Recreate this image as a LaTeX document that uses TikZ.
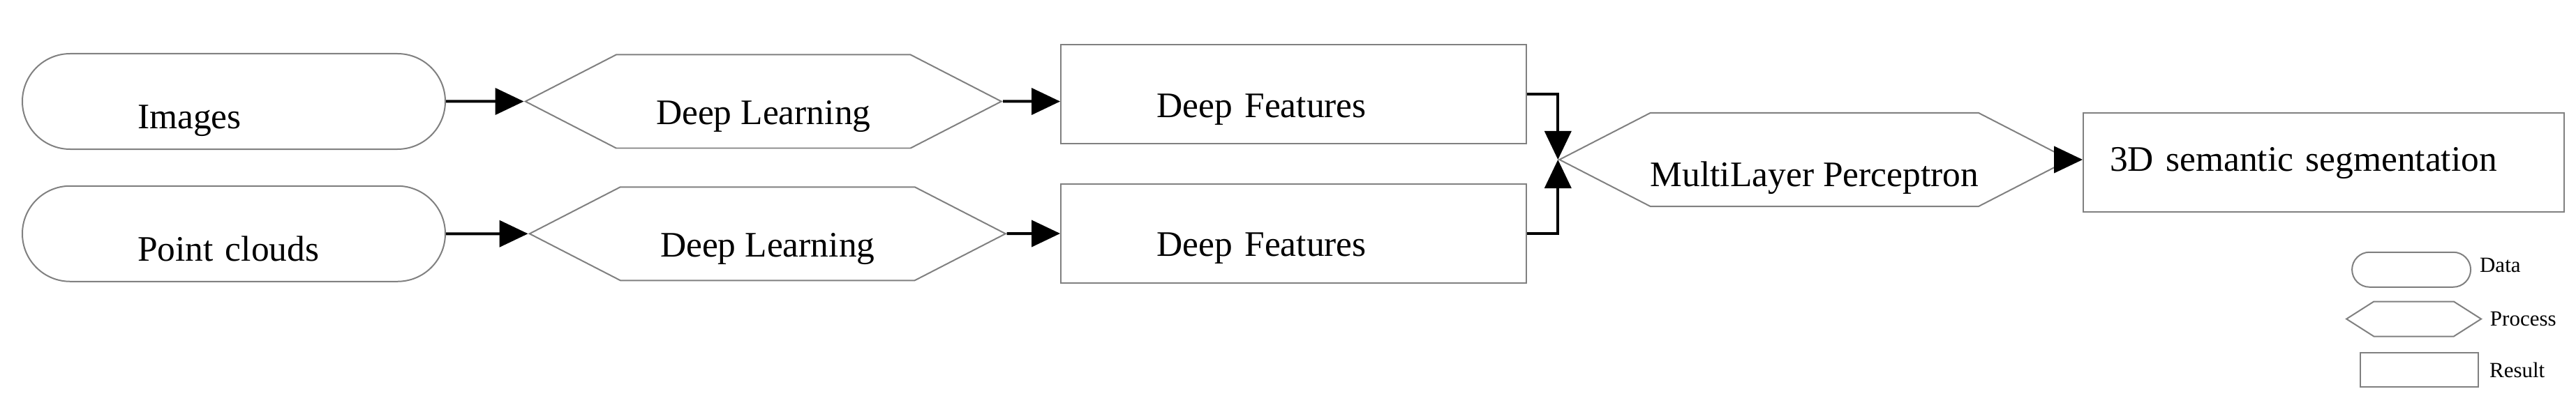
\documentclass[tikz,border=0pt]{standalone}
\usepackage{fontspec}
\setmainfont{Liberation Serif}
\usetikzlibrary{shapes.symbols,arrows.meta}
\definecolor{edgegray}{RGB}{128,128,128}
\tikzstyle{data} = [rectangle, draw=edgegray, line width=0.4pt, rounded corners=13.7pt, minimum width=121.2pt, minimum height=27.4pt, inner xsep=33pt, text width=55.2pt, align=left, text height=15.5pt, text depth=0pt, font=\fontsize{10.3}{12}\selectfont]
\tikzstyle{process} = [signal, signal to=east and west, signal pointer angle=54.5, draw=edgegray, line width=0.4pt, minimum width=136.4pt, minimum height=26.8pt, inner sep=0pt, text height=13.2pt, text depth=0pt, font=\fontsize{10.3}{12}\selectfont]
\tikzstyle{result} = [rectangle, draw=edgegray, line width=0.4pt, minimum width=133.4pt, minimum height=28.4pt, inner xsep=27.5pt, text width=78.4pt, align=left, text height=13.2pt, text depth=0pt, font=\fontsize{10.3}{12}\selectfont]
\tikzstyle{keydata} = [rectangle, draw=edgegray, line width=0.4pt, rounded corners=5pt, minimum width=34pt, minimum height=10pt, inner sep=0pt]
\tikzstyle{keyprocess} = [signal, signal to=east and west, signal pointer angle=65, draw=edgegray, line width=0.4pt, minimum width=38.6pt, minimum height=10pt, inner sep=0pt]
\tikzstyle{keyresult} = [rectangle, draw=edgegray, line width=0.4pt, minimum width=33.8pt, minimum height=9.8pt, inner sep=0pt]
\tikzstyle{keytext} = [anchor=west, inner sep=0pt, font=\fontsize{6.2}{7}\selectfont]
\tikzstyle{connector} = [line width=0.8pt, -{Triangle[length=8.2pt,width=7.6pt]}]

\begin{document}
\begin{tikzpicture}
    \useasboundingbox (0,0) rectangle (738.2pt,118pt);
    % inputs
    \node (img) [data] at (67pt,88.9pt) {Images};
    \node (pts) [data, below of = img, yshift = -9.5pt] {Point clouds};
    % learning
    \node (dl1) [process, right of = img, xshift = 123.3pt] {Deep Learning};
    \node (dl2) [process, right of = pts, xshift = 124.5pt] {Deep Learning};
    \node (feat1) [result, right of = dl1, xshift = 123.5pt, yshift = 2pt] {Deep Features};
    \node (feat2) [result, below of = feat1, yshift = -11.4pt] {Deep Features};
    % fusion
    \node (mlp) [process, right of = feat1, xshift = 120.8pt, yshift = -18.7pt, text height = 15.5pt] {MultiLayer Perceptron};
    \node (seg) [result, right of = mlp, xshift = 117.5pt, yshift = -0.8pt, minimum width = 137.8pt, inner xsep = 7.6pt, text width = 122.6pt, text height = 7pt, text depth = 2pt] {3D semantic segmentation};
    % legend
    \node (keydata) [keydata, below of = seg, xshift = 25.1pt, yshift = -2.3pt] {};
    \node (keyproc) [keyprocess, below of = keydata, xshift = 0.7pt, yshift = 14.3pt] {};
    \node (keyres) [keyresult, below of = keyproc, xshift = 1.6pt, yshift = 13.8pt] {};
    \node (keydatatext) [keytext, xshift = 2.2pt, yshift = 1.2pt] at (keydata.east) {Data};
    \node (keyproctext) [keytext, xshift = 2pt] at (keyproc.east) {Process};
    \node (keyrestext) [keytext, xshift = 2.8pt] at (keyres.east) {Result};
    \draw [connector] (img) -- (dl1);
    \draw [connector] (pts) -- (dl2);
    \draw [connector] (dl1) -- (dl1 -| feat1.west);
    \draw [connector] (dl2) -- (feat2);
    \draw [connector] (feat1.east) -| (mlp.west);
    \draw [connector] (feat2.east) -| (mlp.west);
    \draw [connector] (mlp) -- (mlp -| seg.west);
\end{tikzpicture}
\end{document}
